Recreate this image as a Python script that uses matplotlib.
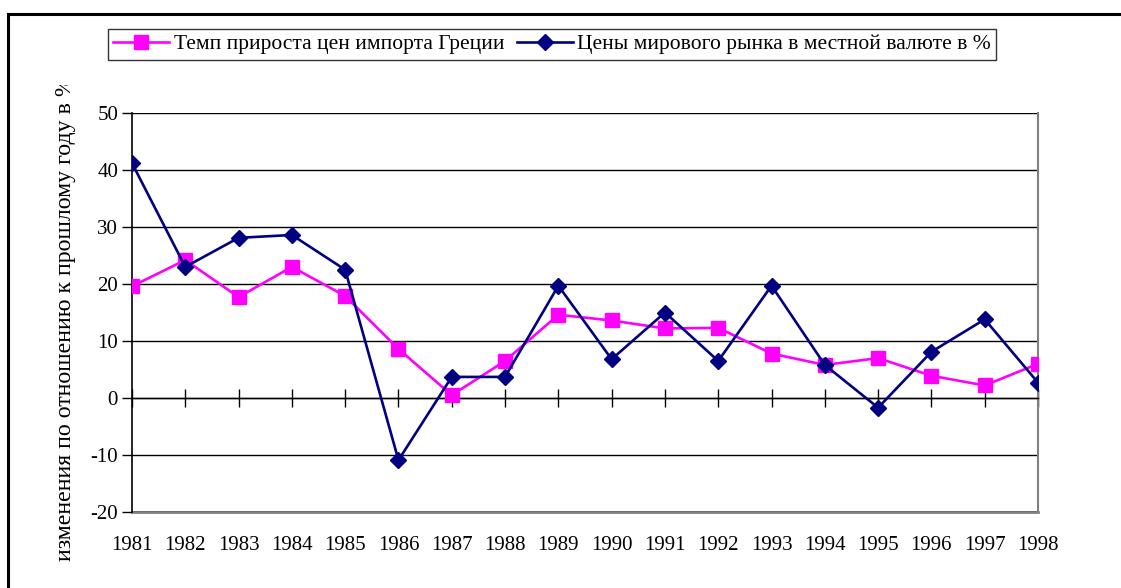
import numpy as np
import matplotlib
matplotlib.use('Agg')
import matplotlib.pyplot as plt
from matplotlib.patches import Rectangle
from matplotlib.transforms import Bbox

# Data
years = ['1981', '1982', '1983', '1984', '1985', '1986', '1987', '1988', '1989',
         '1990', '1991', '1992', '1993', '1994', '1995', '1996', '1997', '1998']
import_prices = [19.6, 24.2, 17.7, 23.0, 17.9, 8.6, 0.5, 6.5, 14.6,
                 13.6, 12.2, 12.3, 7.8, 5.8, 7.0, 3.9, 2.2, 6.0]
world_prices = [41.2, 23.0, 28.1, 28.6, 22.5, -10.9, 3.7, 3.7, 19.7,
                6.8, 15.0, 6.5, 19.7, 5.8, -1.7, 8.1, 13.8, 2.7]
y_ticks = [-20, -10, 0, 10, 20, 30, 40, 50]

label_import = 'Темп прироста цен импорта Греции'
label_world = 'Цены мирового рынка в местной валюте в %'
y_title = 'изменения по отношению к прошлому году в %'

plt.rcParams['font.family'] = ['Liberation Serif', 'DejaVu Serif']
plt.rcParams['font.size'] = 15
plt.rcParams['axes.unicode_minus'] = False

fig = plt.figure(figsize=(11.21, 5.88), dpi=100)
ax = fig.add_axes([132 / 1121, 1 - 512 / 588, (1038 - 132) / 1121, (512 - 113) / 588])

x = np.arange(len(years))
ax.plot(x, import_prices, color='#FF00FF', lw=1.9, marker='s', ms=9.5,
        label=label_import, zorder=3)
ax.plot(x, world_prices, color='#000080', lw=1.9, marker='D', ms=8.5,
        label=label_world, zorder=4)

ax.set_xlim(0, len(years) - 1)
ax.set_ylim(-20, 50)
ax.set_yticks(y_ticks)
ax.yaxis.grid(True, color='black', lw=1)
ax.set_axisbelow(True)
ax.tick_params(axis='y', direction='out', length=7, width=1, pad=3)

# category axis crossing at zero
ax.spines['bottom'].set_position(('data', 0))
ax.spines['bottom'].set_linewidth(1)
ax.set_xticks(x)
ax.tick_params(axis='x', direction='inout', length=13, width=1, labelbottom=False)
ax.spines['top'].set_visible(False)
ax.spines['left'].set_linewidth(1.2)
ax.spines['right'].set_color('#808080')
ax.spines['right'].set_linewidth(1.5)

# labels at the bottom of the plot area
sec = ax.secondary_xaxis(0)
sec.set_xticks(x)
sec.set_xticklabels(years)
sec.tick_params(length=0, pad=17)
sec.spines['bottom'].set_color('#808080')
sec.spines['bottom'].set_linewidth(2)

# axis title, cut at the top like in the original
yt = fig.text(66 / 1121, 1 - 561 / 588, y_title, rotation=90, ha='center', va='bottom',
              fontsize=17.2)
yt.set_clip_box(Bbox.from_extents(0, 0, 1121, 588 - 85))
yt.set_clip_on(True)

leg = fig.legend(loc='upper left', bbox_to_anchor=(108 / 1121, 1 - 29 / 588),
                 ncol=2, frameon=True, fancybox=False, edgecolor='black',
                 handlelength=2.6, handletextpad=0.2, columnspacing=0.6,
                 borderpad=0.25, borderaxespad=0, fontsize=15.5)
leg.get_frame().set_linewidth(1)

fig.patches.append(Rectangle((8 / 1121, -0.1), 1.2, 1.1 - 14 / 588, fill=False,
                             edgecolor='black', lw=2.2, transform=fig.transFigure,
                             figure=fig))

fig.savefig('out.png', dpi=100)
